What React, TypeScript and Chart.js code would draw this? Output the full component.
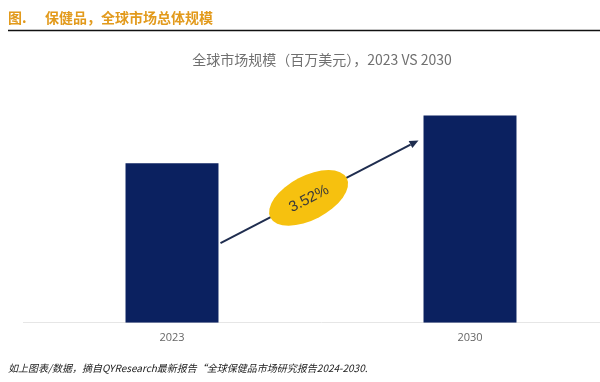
import React, { useEffect, useRef } from "react";
import { Chart, registerables } from "chart.js";

Chart.register(...registerables);

const categories = ["2023", "2030"];
const marketSize = [16300, 21200];
const cagrLabel = "3.52%";
const headerPrefix = "图.";
const headerTitle = "保健品，全球市场总体规模";
const chartTitle = "全球市场规模（百万美元），2023 VS 2030";
const footnote = "如上图表/数据，摘自QYResearch最新报告“全球保健品市场研究报告2024-2030.";

const decorPlugin = {
  id: "decor",
  afterDatasetsDraw(chart: any) {
    const ctx = chart.ctx;
    const meta = chart.getDatasetMeta(0);
    const b1 = meta.data[0] as any;
    const b2 = meta.data[1] as any;
    const x0 = b1.x + b1.width / 2 + 2;
    const y0 = (b1.y + b1.base) / 2;
    const x1 = b2.x - b2.width / 2 - 5;
    const y1 = b2.y + 25;
    ctx.save();
    // arrow
    ctx.strokeStyle = "#1f2d4f";
    ctx.fillStyle = "#1f2d4f";
    ctx.lineWidth = 2;
    const ang = Math.atan2(y1 - y0, x1 - x0);
    const hx = x1 - 9 * Math.cos(ang);
    const hy = y1 - 9 * Math.sin(ang);
    ctx.beginPath();
    ctx.moveTo(x0, y0);
    ctx.lineTo(hx, hy);
    ctx.stroke();
    ctx.beginPath();
    ctx.moveTo(x1, y1);
    ctx.lineTo(hx + 4 * Math.sin(ang), hy - 4 * Math.cos(ang));
    ctx.lineTo(hx - 4 * Math.sin(ang), hy + 4 * Math.cos(ang));
    ctx.closePath();
    ctx.fill();
    // ellipse
    const cx = x0 + (x1 - x0) * 0.445;
    const cy = y0 + (y1 - y0) * 0.44;
    ctx.translate(cx, cy);
    ctx.rotate(ang);
    ctx.beginPath();
    ctx.ellipse(0, 0, 43, 22, 0, 0, Math.PI * 2);
    ctx.fillStyle = "#f6c10f";
    ctx.fill();
    ctx.fillStyle = "#3a3a3a";
    ctx.font = "15px 'Liberation Sans', Arial, sans-serif";
    ctx.textAlign = "center";
    ctx.textBaseline = "middle";
    ctx.fillText(cagrLabel, 0, 1);
    ctx.restore();

    // header / footer
    ctx.save();
    ctx.fillStyle = "#e29a1c";
    ctx.font = "bold 14px 'Noto Sans CJK SC', sans-serif";
    ctx.textBaseline = "middle";
    ctx.textAlign = "left";
    ctx.fillText(headerPrefix, 8, 18);
    ctx.fillText(headerTitle, 45, 18);
    ctx.strokeStyle = "#111111";
    ctx.lineWidth = 1.5;
    ctx.beginPath();
    ctx.moveTo(8, 30.5);
    ctx.lineTo(600, 30.5);
    ctx.stroke();
    ctx.fillStyle = "#707070";
    ctx.font = "14px 'Noto Sans CJK SC', sans-serif";
    ctx.textAlign = "center";
    ctx.fillText(chartTitle, 322, 60);
    ctx.fillStyle = "#222222";
    ctx.font = "italic 10px 'Noto Sans CJK SC', 'Liberation Serif', serif";
    ctx.textAlign = "left";
    ctx.fillText(footnote, 8, 368);
    ctx.restore();
  },
};

export default function App() {
  const ref = useRef<HTMLCanvasElement>(null);
  useEffect(() => {
    document.body.style.margin = "0";
    const chart = new Chart(ref.current!, {
      type: "bar",
      data: {
        labels: categories,
        datasets: [
          {
            data: marketSize,
            backgroundColor: "#0b2160",
            categoryPercentage: 1,
            barPercentage: 0.312,
          },
        ],
      },
      options: {
        animation: false,
        responsive: false,
        maintainAspectRatio: false,
        layout: { padding: { left: 23, right: 0, top: 88, bottom: 30 } },
        plugins: { legend: { display: false }, tooltip: { enabled: false } },
        scales: {
          x: {
            offset: true,
            grid: { display: false, drawTicks: false },
            border: { display: true, color: "#e6e6e6", width: 1 },
            ticks: {
              color: "#666666",
              font: { size: 11, family: "'Open Sans', sans-serif" },
              padding: 8,
            },
          },
          y: {
            display: false,
            min: 0,
            max: 24000,
          },
        },
      },
      plugins: [decorPlugin],
    });
    return () => chart.destroy();
  }, []);
  return (
    <div style={{ position: "relative", width: 600, height: 382, overflow: "hidden", background: "#fff" }}>
      <canvas ref={ref} width={619} height={382} style={{ display: "block" }} />
    </div>
  );
}
